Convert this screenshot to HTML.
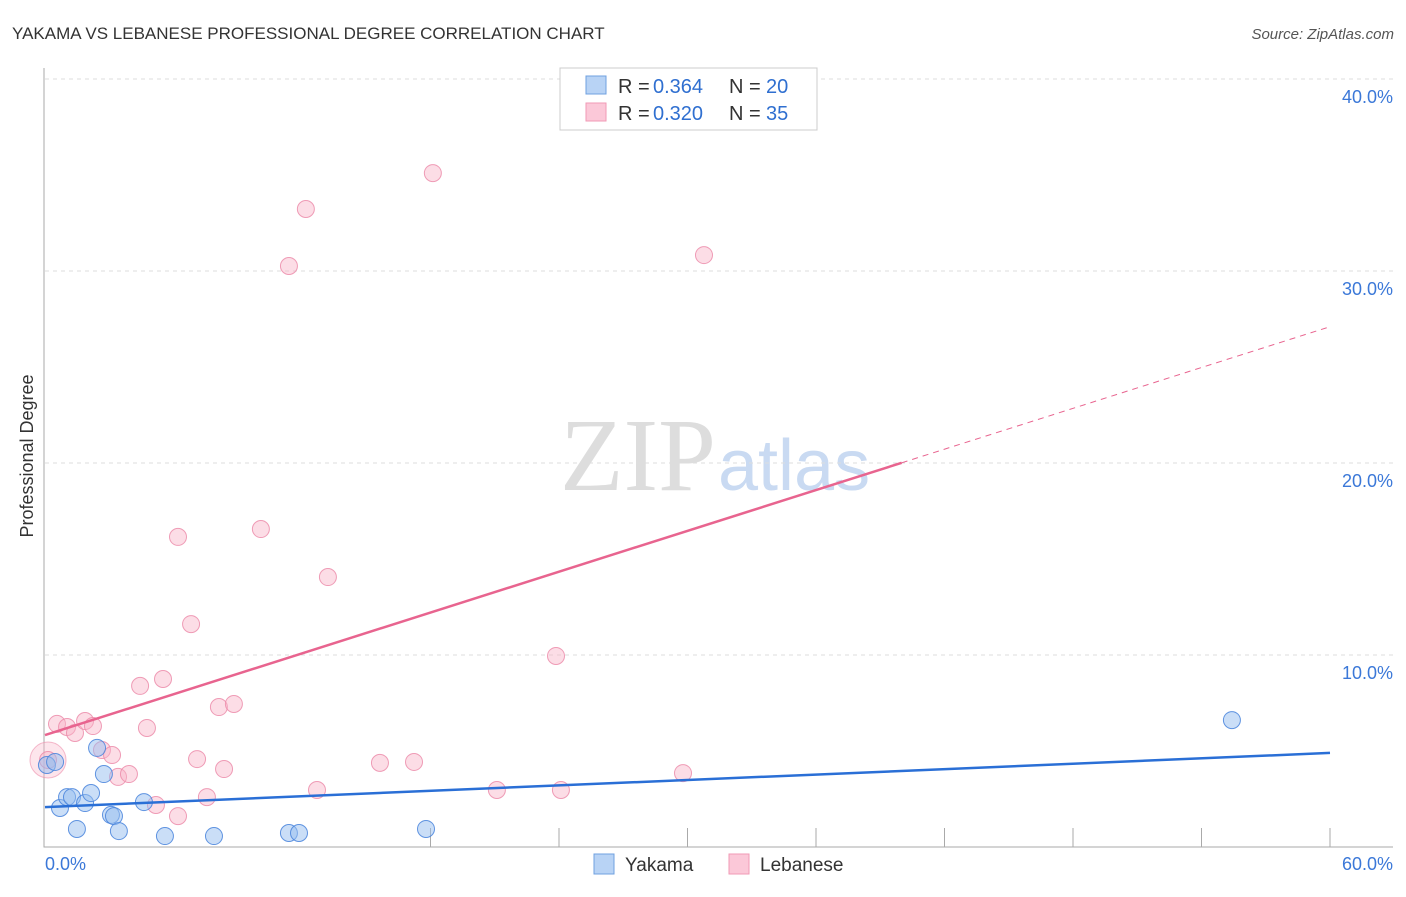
<!DOCTYPE html>
<html><head><meta charset="utf-8"><style>
body{margin:0;background:#fff;font-family:"Liberation Sans",sans-serif}
</style></head><body>
<svg id="chart" width="1406" height="892" xmlns="http://www.w3.org/2000/svg" font-family="Liberation Sans, sans-serif">
<text x="12" y="39" font-size="17" fill="#333">YAKAMA VS LEBANESE PROFESSIONAL DEGREE CORRELATION CHART</text>
<text x="1394" y="39" font-size="15" fill="#555" font-style="italic" text-anchor="end">Source: ZipAtlas.com</text>
<text transform="translate(33,456) rotate(-90)" font-size="18" fill="#333" text-anchor="middle">Professional Degree</text>
<text x="716" y="490" font-size="104" fill="#ddd" text-anchor="end" font-family="Liberation Serif, serif">ZIP</text>
<text x="718" y="490" font-size="72" fill="#c9daf2">atlas</text>
<g id="grid"></g><g id="marks"></g>
<g>
<rect x="560" y="68" width="257" height="62" fill="#fff" stroke="#ccc"/>
<rect x="586" y="76" width="20" height="18" fill="#b8d3f5" stroke="#6fa0e0"/>
<rect x="586" y="103" width="20" height="18" fill="#fbc8d8" stroke="#f09ab6"/>
<text x="618" y="93" font-size="20" fill="#333">R =</text>
<text x="653" y="93" font-size="20" fill="#2f6fd0">0.364</text>
<text x="729" y="93" font-size="20" fill="#333">N =</text>
<text x="766" y="93" font-size="20" fill="#2f6fd0">20</text>
<text x="618" y="120" font-size="20" fill="#333">R =</text>
<text x="653" y="120" font-size="20" fill="#2f6fd0">0.320</text>
<text x="729" y="120" font-size="20" fill="#333">N =</text>
<text x="766" y="120" font-size="20" fill="#2f6fd0">35</text>
</g>
<g>
<rect x="594" y="854" width="20" height="20" fill="#b8d3f5" stroke="#6fa0e0"/>
<text x="625" y="871" font-size="19" fill="#333">Yakama</text>
<rect x="729" y="854" width="20" height="20" fill="#fbc8d8" stroke="#f09ab6"/>
<text x="760" y="871" font-size="19" fill="#333">Lebanese</text>
</g>
</svg>
<script>
const yTicks=[10,20,30,40];
const yTickLabels=["10.0%","20.0%","30.0%","40.0%"];
const xTickLabels=["0.0%","60.0%"];
const blueX=[0.09,0.47,0.70,1.03,1.26,1.49,1.87,2.15,2.43,2.75,3.08,3.22,3.45,4.62,5.60,7.89,11.39,11.86,17.79,55.42];
const blueY=[4.27,4.43,2.03,2.60,2.60,0.94,2.29,2.81,5.16,3.80,1.67,1.61,0.83,2.34,0.57,0.57,0.73,0.73,0.94,6.61];
const pinkX=[0.14,0.56,1.03,1.40,1.87,2.24,2.66,3.13,3.41,3.92,4.44,4.76,5.18,5.51,6.21,6.21,6.82,7.10,7.56,8.12,8.36,8.82,10.08,11.39,12.18,12.70,13.21,15.64,17.23,18.11,21.10,23.86,24.09,29.79,30.77];
const pinkY=[4.53,6.41,6.25,5.94,6.56,6.30,5.05,4.79,3.65,3.80,8.39,6.20,2.19,8.75,16.15,1.61,11.61,4.58,2.60,7.29,4.06,7.45,16.56,30.26,33.23,2.97,14.06,4.38,4.43,35.10,2.97,9.95,2.97,3.85,30.83];
const blueTrend=[2.08,4.9];
const pinkTrend=[5.83,27.1];
const NS="http://www.w3.org/2000/svg";
const X=v=>45+v*1285/60, Y=v=>847-v*19.2;
function mk(t,a,p){const e=document.createElementNS(NS,t);for(const k in a)e.setAttribute(k,a[k]);p.appendChild(e);return e;}
const g=document.getElementById('grid'),m=document.getElementById('marks');
yTicks.forEach((t,i)=>{
 const l=mk('line',{x1:45,x2:1393,y1:Y(t),y2:Y(t),stroke:'#ddd','stroke-dasharray':'4,4'},g);
 
 
 const tx=mk('text',{x:1393,y:Y(t)+24,'font-size':18,fill:'#3b78d8','text-anchor':'end'},g);tx.textContent=yTickLabels[i];
 
 
});
const ax=mk('path',{d:'M44,68V847H1393',stroke:'#aaa',fill:'none'},g);


for(let i=3;i<=10;i++){const xx=X(i*6);const t=mk('line',{x1:xx,x2:xx,y1:828,y2:847,stroke:'#aaa'},g);
 
 }
[[0,45,'start'],[60,1393,'end']].forEach((d,i)=>{const t=mk('text',{x:d[1],y:870,'font-size':18,fill:'#3b78d8','text-anchor':d[2]},g);t.textContent=xTickLabels[i];
 
 });
const big=mk('circle',{cx:X(0.14),cy:Y(4.53),r:18,fill:'rgba(248,180,200,0.35)',stroke:'rgba(236,140,170,0.6)'},m);


pinkX.forEach((x,i)=>{const c=mk('circle',{cx:X(x),cy:Y(pinkY[i]),r:8.5,fill:'rgba(248,180,200,0.45)',stroke:'rgba(236,140,170,0.85)'},m);
 
 });
blueX.forEach((x,i)=>{const c=mk('circle',{cx:X(x),cy:Y(blueY[i]),r:8.5,fill:'rgba(150,190,240,0.5)',stroke:'rgba(70,130,220,0.85)'},m);
 
 });
const pm=pinkTrend[0]+(pinkTrend[1]-pinkTrend[0])*40/60;
const p1=mk('line',{x1:X(0),y1:Y(pinkTrend[0]),x2:X(40),y2:Y(pm),stroke:'#e8648f','stroke-width':2.5},m);


const p2=mk('line',{x1:X(40),y1:Y(pm),x2:X(60),y2:Y(pinkTrend[1]),stroke:'#e8648f','stroke-width':1,'stroke-dasharray':'6,5'},m);


const b1=mk('line',{x1:X(0),y1:Y(blueTrend[0]),x2:X(60),y2:Y(blueTrend[1]),stroke:'#2a6fd6','stroke-width':2.5},m);


</script>
</body></html>
